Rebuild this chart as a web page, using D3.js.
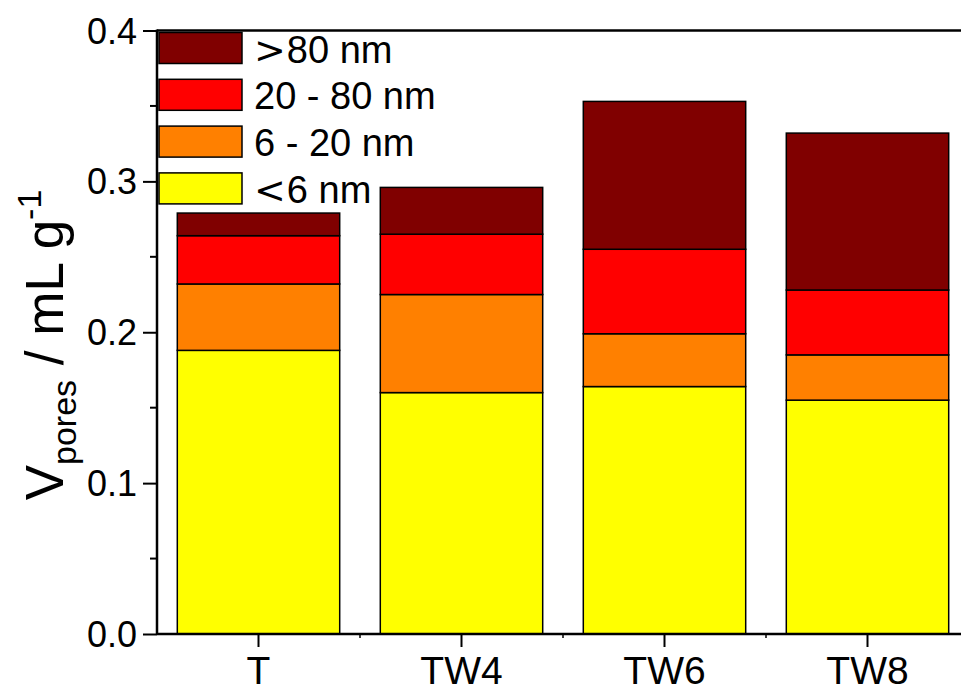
<!DOCTYPE html>
<html>
<head>
<meta charset="utf-8">
<script src="https://cdn.jsdelivr.net/npm/d3@7"></script>
<style>
  html, body { margin: 0; padding: 0; background: #fff; }
  svg { display: block; font-family: "Liberation Sans", Arial, sans-serif; }
</style>
</head>
<body>
<svg id="chart" width="961" height="691"></svg>
<script>
// Pore volume by size class for each sample (mL g^-1)
const samples = ["T", "TW4", "TW6", "TW8"];
const poreClasses = ["<6 nm", "6 - 20 nm", "20 - 80 nm", ">80 nm"];
const below6 = [0.188, 0.160, 0.164, 0.155];
const from6to20 = [0.044, 0.065, 0.035, 0.030];
const from20to80 = [0.032, 0.040, 0.056, 0.043];
const above80 = [0.015, 0.031, 0.098, 0.104];
const classColors = ["#FFFF00", "#FF8000", "#FF0000", "#800000"];
const yTicks = [0.0, 0.1, 0.2, 0.3, 0.4];

const rows = samples.map((s, i) => ({
  sample: s,
  "<6 nm": below6[i],
  "6 - 20 nm": from6to20[i],
  "20 - 80 nm": from20to80[i],
  ">80 nm": above80[i]
}));

const svg = d3.select("#chart");
const plotLeft = 157, plotTop = 30.5, plotBottom = 634, plotRight = 969;

const x = d3.scaleBand().domain(samples).range([plotLeft, plotRight])
  .paddingInner(0.2).paddingOuter(0.1);
const y = d3.scaleLinear().domain([0, 0.4]).range([plotBottom, plotTop]);
const color = d3.scaleOrdinal().domain(poreClasses).range(classColors);

const stacked = d3.stack().keys(poreClasses)(rows);

// stacked bars
svg.append("g").selectAll("g").data(stacked).join("g")
  .attr("fill", d => color(d.key))
  .selectAll("rect").data(d => d).join("rect")
  .attr("x", d => x(d.data.sample))
  .attr("width", x.bandwidth())
  .attr("y", d => y(d[1]))
  .attr("height", d => y(d[0]) - y(d[1]))
  .attr("stroke", "#000")
  .attr("stroke-width", 1.5);

// left axis with minor ticks
const yAxis = svg.append("g").attr("transform", `translate(${plotLeft},0)`)
  .call(d3.axisLeft(y).tickValues(yTicks).tickFormat(d3.format(".1f"))
    .tickSize(14).tickPadding(6));
yAxis.select(".domain").remove();
yAxis.selectAll(".tick line").attr("stroke-width", 2);
yAxis.selectAll(".tick text").attr("font-size", 36).attr("fill", "#000")
  .attr("font-family", "Liberation Sans").attr("dy", "0.35em");
const minor = [0.05, 0.15, 0.25, 0.35];
svg.append("g").selectAll("line").data(minor).join("line")
  .attr("x1", plotLeft - 7).attr("x2", plotLeft)
  .attr("y1", d => y(d)).attr("y2", d => y(d))
  .attr("stroke", "#000").attr("stroke-width", 2);

// bottom axis
const xAxis = svg.append("g").attr("transform", `translate(0,${plotBottom})`)
  .call(d3.axisBottom(x).tickSize(13));
xAxis.select(".domain").remove();
xAxis.selectAll(".tick line").attr("stroke-width", 2);
xAxis.selectAll(".tick text").attr("font-size", 39).attr("fill", "#000")
  .attr("font-family", "Liberation Sans").attr("y", 50).attr("dy", 0);
// small ticks between categories
svg.append("g").selectAll("line").data(samples.slice(1)).join("line")
  .attr("x1", d => x(d) - x.step() * x.paddingInner() / 2)
  .attr("x2", d => x(d) - x.step() * x.paddingInner() / 2)
  .attr("y1", plotBottom).attr("y2", plotBottom + 4)
  .attr("stroke", "#000").attr("stroke-width", 1.5);

// frame lines
svg.append("line").attr("x1", plotLeft).attr("x2", 961).attr("y1", plotBottom).attr("y2", plotBottom)
  .attr("stroke", "#000").attr("stroke-width", 2.5);
svg.append("line").attr("x1", plotLeft).attr("x2", 961).attr("y1", plotTop).attr("y2", plotTop)
  .attr("stroke", "#000").attr("stroke-width", 2.5);
svg.append("line").attr("x1", plotLeft).attr("x2", plotLeft).attr("y1", plotTop - 1).attr("y2", plotBottom + 1)
  .attr("stroke", "#000").attr("stroke-width", 2.5);

// legend, top class first
const legendOrder = poreClasses.slice().reverse();
const legend = svg.append("g").selectAll("g").data(legendOrder).join("g")
  .attr("transform", (d, i) => `translate(159,${32.5 + i * 46.8})`);
legend.append("rect").attr("width", 83).attr("height", 31)
  .attr("fill", d => color(d)).attr("stroke", "#000").attr("stroke-width", 1.5);
const legendText = legend.append("text").attr("x", 95).attr("y", 30)
  .attr("font-size", 38).attr("fill", "#000");
legendText.each(function (d) {
  const t = d3.select(this);
  if (d[0] === "<" || d[0] === ">") {
    t.append("tspan").attr("font-family", "DejaVu Sans").text(d[0]);
    t.append("tspan").attr("dx", 1).text(d.slice(1));
  } else {
    t.append("tspan").text(d);
  }
});

// y-axis title
const title = svg.append("text")
  .attr("transform", "translate(63,345) rotate(-90)")
  .attr("text-anchor", "middle").attr("fill", "#000").attr("font-size", 53);
title.append("tspan").text("V");
title.append("tspan").attr("font-size", 34).attr("dy", 13).text("pores");
title.append("tspan").attr("dy", -13).text(" / mL g");
title.append("tspan").attr("font-size", 34).attr("dy", -22).text("-1");
</script>
</body>
</html>
